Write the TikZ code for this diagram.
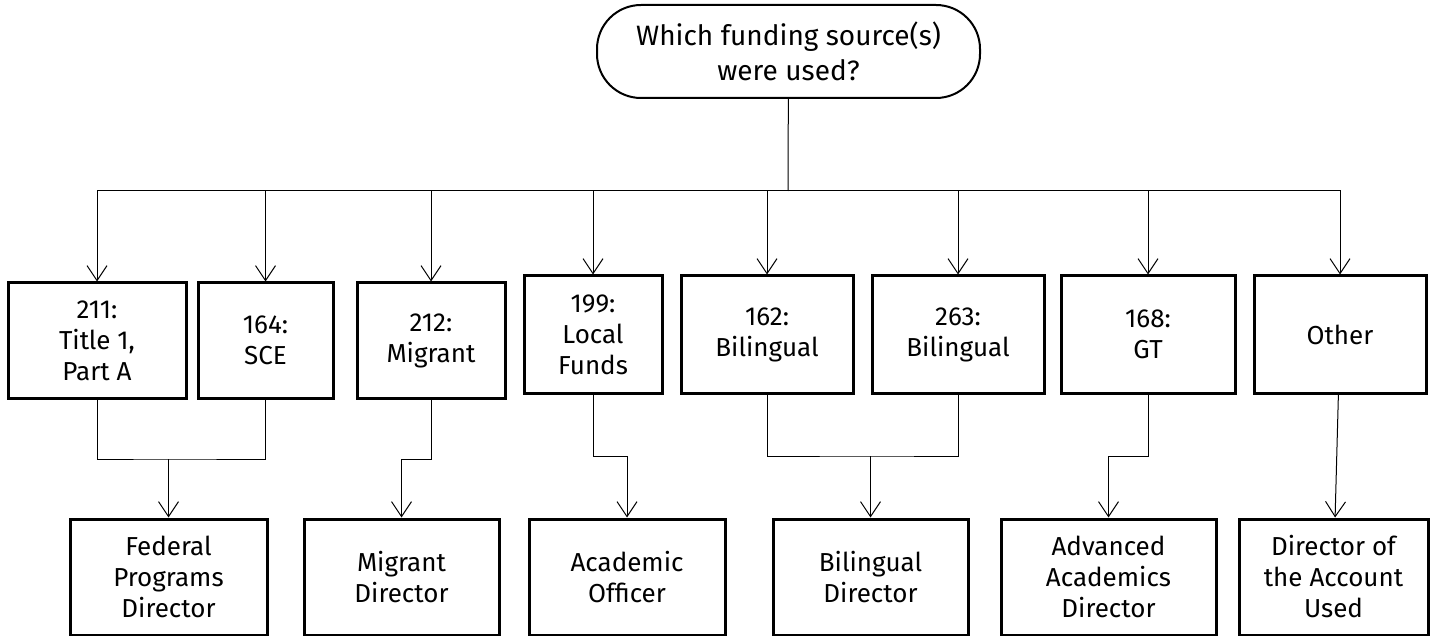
\documentclass[tikz,border=0pt]{standalone}
\usepackage{fontspec}
\setmainfont{Fira Sans}
\usepackage{tikz}
\usetikzlibrary{arrows.meta, positioning}

\begin{document}
\begin{tikzpicture}[x=0.5pt, y=-0.5pt,
    fundbox/.style={draw, line width=1.5pt, align=center, inner sep=0pt,
        font=\fontsize{13}{15.5}\selectfont},
    leadbox/.style={fundbox, minimum height=58pt},
    flowarrow/.style={-{Straight Barb[length=7.5pt, width=10pt]}},
    link/.style={line width=0.5pt}]
    \useasboundingbox (0,0) rectangle (1440,636);

    % Question
    \node[draw, line width=1pt, rounded corners=22pt, minimum width=191.5pt,
        minimum height=46.5pt, align=center,
        font=\fontsize{14}{17.5}\selectfont] (question) at (788.5,51.5)
        {Which funding source(s)\\were used?};

    % Funding sources
    \node[fundbox, minimum width=89pt, minimum height=57.5pt] (f211) at (97,340.5) {211:\\Title 1,\\Part A};
    \node[fundbox, minimum width=67.5pt, minimum height=57.5pt] (f164) at (265.5,340.5) {164:\\SCE};
    \node[fundbox, minimum width=74pt, minimum height=57.5pt] (f212) at (431,340.5) {212:\\Migrant};
    \node[fundbox, minimum width=69pt, minimum height=58.5pt] (f199) at (593,334.5) {199:\\Local\\Funds};
    \node[fundbox, minimum width=86pt, minimum height=58.5pt] (f162) at (767,334.5) {162:\\Bilingual};
    \node[fundbox, minimum width=86pt, minimum height=58.5pt] (f263) at (958,334.5) {263:\\Bilingual};
    \node[fundbox, minimum width=87pt, minimum height=58.5pt] (f168) at (1148,334.5) {168:\\GT};
    \node[fundbox, minimum width=86pt, minimum height=58.5pt] (fother) at (1340,334.5) {Other};

    % Directors
    \node[leadbox, minimum width=98.5pt] (dfed) at (168.5,577) {Federal\\Programs\\Director};
    \node[leadbox, minimum width=97.5pt] (dmig) at (401.5,577) {Migrant\\Director};
    \node[leadbox, minimum width=98pt] (dacad) at (627,577) {Academic\\Officer};
    \node[leadbox, minimum width=97.5pt] (dbil) at (870.5,577) {Bilingual\\Director};
    \node[leadbox, minimum width=107.5pt] (dadv) at (1108.5,577) {Advanced\\Academics\\Director};
    \node[leadbox, minimum width=94.5pt] (dacct) at (1333.5,577) {Director of\\the Account\\Used};

    % Bus from the question
    \coordinate (bus) at (788,191);
    \draw[link] (question) -- (bus);
    \foreach \f in {f211, f164, f212, f199, f162, f263, f168, fother}
        \draw[link, flowarrow] (bus) -| (\f);

    % Joins down to the directors
    \coordinate (jfed) at (168.5,459);
    \coordinate (jmig) at (431,459);
    \coordinate (jacad) at (593,456);
    \coordinate (jbil) at (870.5,456);
    \coordinate (jadv) at (1148,456);
    \draw[link] (f211.south) |- (jfed) -| (f164.south);
    \draw[link, flowarrow] (jfed) -- (dfed);
    \draw[link, flowarrow] (f212) -- (jmig) -| (dmig);
    \draw[link, flowarrow] (f199) -- (jacad) -| (dacad);
    \draw[link] (f162.south) |- (jbil) -| (f263.south);
    \draw[link, flowarrow] (jbil) -- (dbil);
    \draw[link, flowarrow] (f168) -- (jadv) -| (dadv);
    \draw[link, flowarrow] (fother) -- (dacct);
\end{tikzpicture}
\end{document}
